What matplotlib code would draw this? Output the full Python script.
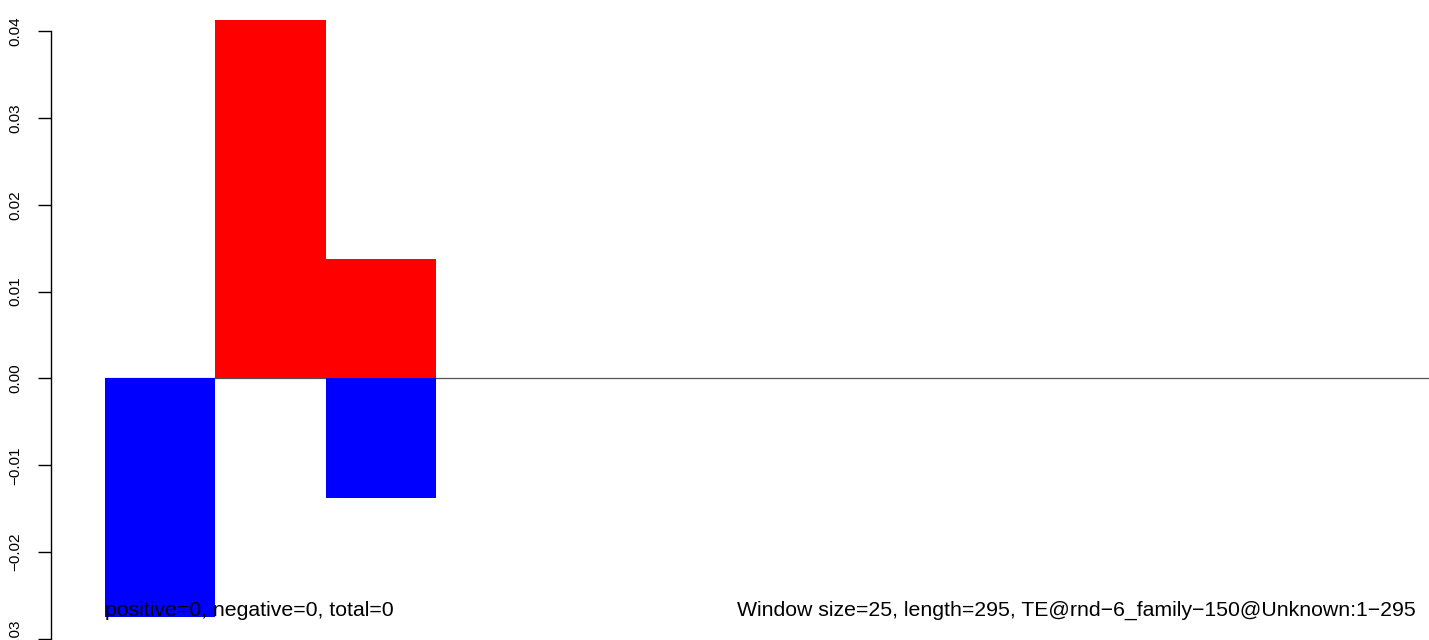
import numpy as np
import matplotlib.pyplot as plt

plt.rcParams['font.family'] = ['Liberation Sans', 'DejaVu Sans']

# window values (positive / negative part of each window)
windows = [0, 1, 2]
pos_vals = [0.0, 0.0413, 0.0137]
neg_vals = [-0.0275, 0.0, -0.0138]

yticks = [-0.03, -0.02, -0.01, 0.00, 0.01, 0.02, 0.03, 0.04]
ytick_labels = ["\u22120.03", "\u22120.02", "\u22120.01", "0.00", "0.01", "0.02", "0.03", "0.04"]

left_text = "positive=0, negative=0, total=0"
right_text = "Window size=25, length=295, TE@rnd\u22126_family\u2212150@Unknown:1\u2212295"
n_windows = 12

fig = plt.figure(figsize=(14.29, 6.4), dpi=100)
# axes runs past the right edge, as in the cropped reference
ax = fig.add_axes([51 / 1429, 0.0, 12.98 * 110.3 / 1429, 1.0])
ax.set_xlim(-0.49, n_windows + 0.49)
ax.set_ylim(-0.0301, 0.04356)

# zero line under the bars
ax.hlines(0, 0, n_windows + 1, color="#555555", linewidth=0.9, zorder=1)

ax.bar(windows, pos_vals, width=1.0, align="edge", color="red", edgecolor="none", zorder=2)
ax.bar(windows, neg_vals, width=1.0, align="edge", color="blue", edgecolor="none", zorder=2)

# axes in R style: only the left axis, bounded to tick range
for s in ["top", "right", "bottom"]:
    ax.spines[s].set_visible(False)
ax.spines["left"].set_bounds(-0.03, 0.04)
ax.spines["left"].set_linewidth(1.0)
ax.set_xticks([])
ax.set_yticks(yticks)
ax.set_yticklabels(ytick_labels, rotation=90, va="center", fontsize=11)
ax.tick_params(axis="y", length=9.4, width=1.0, pad=11)

ax.text(0, -0.02736, left_text, ha="left", va="baseline", fontsize=15.3, zorder=3)
ax.text((737 - 105) / 110.3, -0.02736, right_text, ha="left", va="baseline", fontsize=15.3, zorder=3)

plt.savefig("out.png", dpi=100)
